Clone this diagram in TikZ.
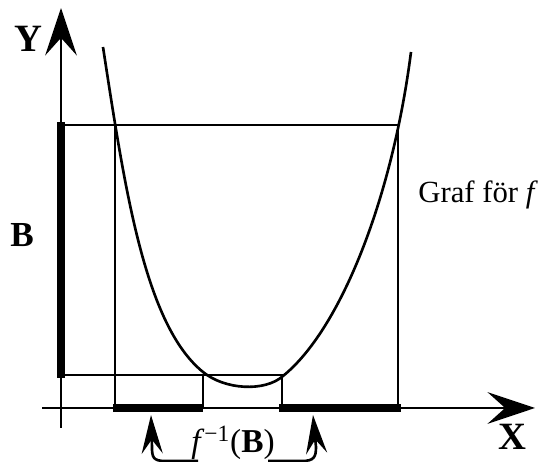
\documentclass[tikz,border=0pt]{standalone}
\usepackage{fontspec}
\setmainfont{Liberation Serif}
\usetikzlibrary{arrows.meta, positioning, calc}

\begin{document}
\begin{tikzpicture}[x=0.02cm, y=-0.02cm,
  axisline/.style={line width=1.5pt, -{Stealth[length=27pt, width=18pt, inset=10pt]}},
  graphline/.style={line width=1.5pt},
  barline/.style={line width=5pt},
  hookline/.style={line width=1.5pt, -{Stealth[length=22pt, width=12pt, inset=8pt]}},
  lbl/.style={font=\fontsize{22}{24}\selectfont\bfseries, inner sep=0pt, anchor=base}
]
  \useasboundingbox (0,0) rectangle (545,462);

  % axes
  \coordinate (xstart) at (42,408);
  \coordinate (xend) at (535,408);
  \coordinate (ystart) at (61,428);
  \coordinate (yend) at (61,8);
  \draw[axisline] (xstart) -- (xend);
  \draw[axisline] (ystart) -- (yend);
  \node[lbl] (ylab) at (28,52) {Y};
  \node[lbl] (xlab) at (512,450) {X};

  % the set B and its preimage
  \draw[barline] (61,122) -- (61,378);
  \draw[barline] (113,408) -- (203,408);
  \draw[barline] (279,408) -- (401,408);
  \node[lbl, font=\fontsize{20}{22}\selectfont\bfseries] (blab) at (22,247) {B};

  % help lines
  \draw[graphline] (61,125) -- (398,125) -- (398,408);
  \draw[graphline] (115,125) -- (115,408);
  \draw[graphline] (61,375) -- (283,375);
  \draw[graphline] (203,375) -- (203,408);
  \draw[graphline] (282,375) -- (282,408);

  % graph of f
  \draw[graphline] (103,47) .. controls (125,190) and (145,325) .. (203,372)
    .. controls (225,390) and (265,392) .. (283,376)
    .. controls (340,330) and (392,200) .. (411,52);
  \node[inner sep=0pt, anchor=base west, font=\fontsize{17.5}{20}\selectfont] (graf) at (418,203) {Graf för \textit{f}};

  % preimage label
  \node[inner sep=0pt, anchor=base, font=\fontsize{19}{21}\selectfont] (finv) at (233,453)
    {\textit{f}\textsuperscript{−1}(\textbf{B})};
  \coordinate (lend) at (198,461);
  \coordinate (ltip) at (151,415);
  \coordinate (rend) at (268,461);
  \coordinate (rtip) at (313,415);
  \draw[hookline] (lend) -- (165,461) .. controls (153,461) and (152,457) .. (152,447) -- (ltip);
  \draw[hookline] (rend) -- (302,461) .. controls (314,461) and (316,457) .. (316,447) -- (rtip);
\end{tikzpicture}
\end{document}
